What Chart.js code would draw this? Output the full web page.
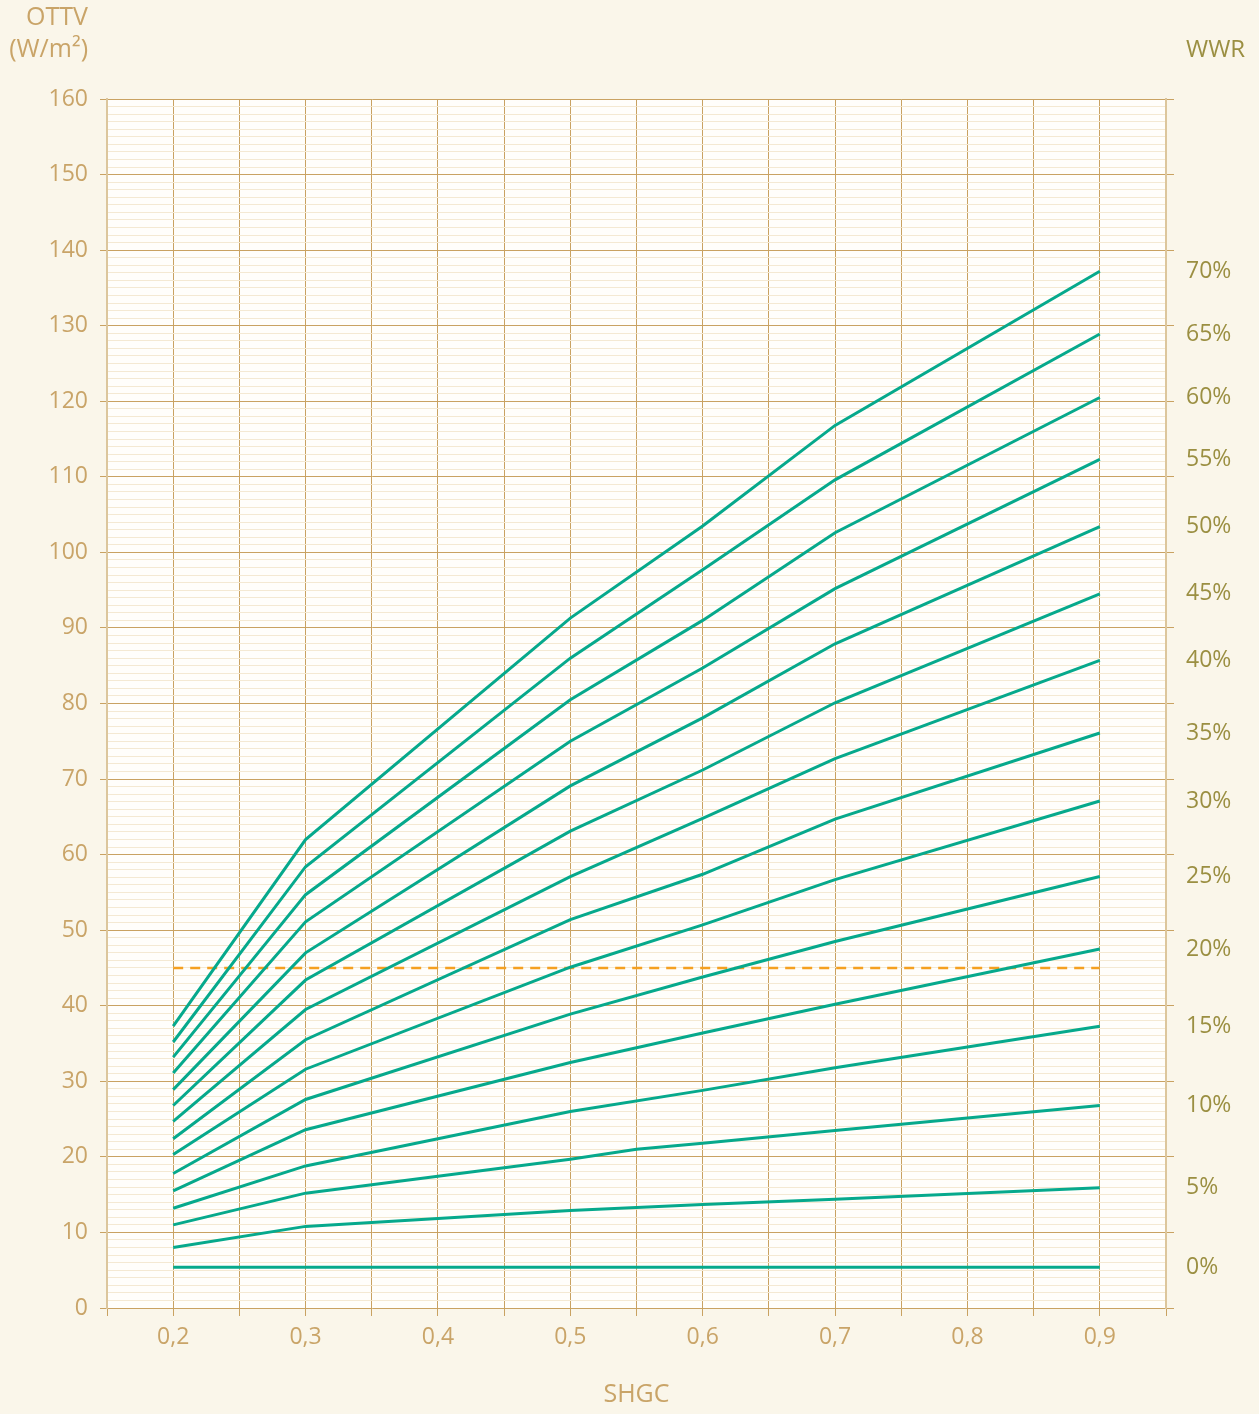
<!DOCTYPE html>
<html><head><meta charset="utf-8">
<script src="https://cdn.jsdelivr.net/npm/chart.js@4/dist/chart.umd.min.js"></script>
<style>html,body{margin:0;padding:0;background:#faf6ea;} canvas{display:block}</style>
</head><body>
<canvas id="c" width="1259" height="1414"></canvas>
<script>
// ---- data ----
const shgc = [0.2, 0.3, 0.5, 0.55, 0.6, 0.7, 0.9];
const wwr70 = [37.3, 62.0, 91.3, null, 103.5, 116.8, 137.2];
const wwr65 = [35.2, 58.4, 86.0, null, 97.7, 109.6, 128.9];
const wwr60 = [33.2, 54.7, 80.5, null, 91.0, 102.6, 120.5];
const wwr55 = [31.1, 51.1, 75.0, null, 84.7, 95.2, 112.3];
const wwr50 = [28.9, 47.0, 69.1, null, 78.1, 87.9, 103.4];
const wwr45 = [26.8, 43.4, 63.1, null, 71.2, 80.1, 94.5];
const wwr40 = [24.7, 39.5, 57.1, null, 64.8, 72.7, 85.7];
const wwr35 = [22.4, 35.5, 51.4, null, 57.4, 64.7, 76.1];
const wwr30 = [20.3, 31.6, 45.1, null, 50.7, 56.7, 67.1];
const wwr25 = [17.8, 27.6, 38.9, null, 43.8, 48.5, 57.1];
const wwr20 = [15.5, 23.6, 32.5, null, 36.4, 40.2, 47.5];
const wwr15 = [13.2, 18.8, 26.0, null, 28.8, 31.8, 37.3];
const wwr10 = [11.0, 15.2, 19.7, 21.0, 21.8, 23.5, 26.8];
const wwr05 = [8.0, 10.8, 12.9, null, 13.7, 14.4, 15.9];
const wwr00 = [5.4, 5.4, 5.4, null, 5.4, 5.4, 5.4];
const wwrNames = ['70%','65%','60%','55%','50%','45%','40%','35%','30%','25%','20%','15%','10%','5%','0%'];
const wwrSeries = [wwr70, wwr65, wwr60, wwr55, wwr50, wwr45, wwr40, wwr35, wwr30, wwr25, wwr20, wwr15, wwr10, wwr05, wwr00];
const ottvLimit = 45;
const limitRange = [0.2, 0.9];
const ottvTicks = [0,10,20,30,40,50,60,70,80,90,100,110,120,130,140,150,160];
const shgcTicks = [0.15,0.2,0.25,0.3,0.35,0.4,0.45,0.5,0.55,0.6,0.65,0.7,0.75,0.8,0.85,0.9,0.95];
const shgcLabeled = [0.2,0.3,0.4,0.5,0.6,0.7,0.8,0.9];

// ---- styles ----
const TEAL = '#06a98c';
const ORANGE = '#f5a020';
const GOLD = '#c9a262';
const MINOR = '#f4e9d3';
const TAN = '#c9a468';
const OLIVE = '#9b8f42';
const FONT = "'Open Sans', 'Noto Sans', sans-serif";

const datasets = wwrSeries.map((vals, i) => ({
  label: wwrNames[i],
  data: shgc.map((x, j) => ({x: x, y: vals[j]})).filter(p => p.y !== null),
  borderColor: TEAL, borderWidth: 3, pointRadius: 0, tension: 0, fill: false,
  yAxisID: 'y'
}));
datasets.push({
  label: 'limit',
  data: limitRange.map(x => ({x: x, y: ottvLimit})),
  borderColor: ORANGE, borderWidth: 2.5, borderDash: [10, 7], pointRadius: 0, fill: false,
  yAxisID: 'y'
});
const wwrEnds = wwrSeries.map(v => v[v.length - 1]);

const bgPlugin = {
  id: 'bg',
  beforeDraw(chart) {
    const {ctx, chartArea: a} = chart;
    ctx.save();
    ctx.fillStyle = '#faf6ea';
    ctx.fillRect(0, 0, chart.width, chart.height);
    ctx.fillStyle = '#fffefb';
    ctx.fillRect(a.left, a.top, a.right - a.left, a.bottom - a.top);
    ctx.restore();
  },
  afterDraw(chart) {
    const {ctx} = chart;
    ctx.save();
    ctx.font = "25px " + FONT;
    ctx.textBaseline = 'middle';
    ctx.textAlign = 'right';
    ctx.fillStyle = TAN;
    ctx.fillText('OTTV', 88, 18);
    ctx.fillText('(W/m²)', 88, 50);
    ctx.textAlign = 'left';
    ctx.fillStyle = OLIVE;
    ctx.font = "24px " + FONT;
    ctx.fillText('WWR', 1186, 50);
    ctx.restore();
  }
};

new Chart(document.getElementById('c'), {
  type: 'line',
  data: {datasets},
  plugins: [bgPlugin],
  options: {
    responsive: false, animation: false, devicePixelRatio: 1,
    layout: {padding: {top: 99, left: 0, right: 0, bottom: 0}},
    plugins: {legend: {display: false}, tooltip: {enabled: false}},
    scales: {
      x: {
        type: 'linear', min: 0.15, max: 0.95, position: 'bottom',
        afterBuildTicks: s => { s.ticks = shgcTicks.map(v => ({value: v})); },
        afterFit: s => { s.height = 106; },
        ticks: {
          autoSkip: false, maxRotation: 0, padding: 8, color: TAN,
          font: {family: FONT, size: 23},
          callback: v => shgcLabeled.some(t => Math.abs(t - v) < 1e-6) ? v.toFixed(1).replace('.', ',') : ''
        },
        grid: {color: GOLD, lineWidth: 1, tickLength: 8, tickColor: GOLD, drawTicks: true},
        border: {display: false},
        title: {display: true, text: 'SHGC', color: TAN, font: {family: FONT, size: 25}, padding: {top: 0, bottom: 4}}
      },
      yMinor: {
        type: 'linear', min: 0, max: 160, position: 'left', weight: 0, z: -1,
        afterBuildTicks: s => { const t = []; for (let v = 0; v <= 160; v++) t.push({value: v}); s.ticks = t; },
        afterFit: s => { s.width = 0; },
        ticks: {display: false, autoSkip: false},
        grid: {color: MINOR, lineWidth: 1, drawTicks: false},
        border: {display: false}
      },
      y: {
        type: 'linear', min: 0, max: 160, position: 'left', weight: 1,
        afterBuildTicks: s => { s.ticks = ottvTicks.map(v => ({value: v})); },
        afterFit: s => { s.width = 107; },
        ticks: {autoSkip: false, padding: 12, color: TAN, font: {family: FONT, size: 23}},
        grid: {color: GOLD, lineWidth: 1, tickLength: 7, tickColor: GOLD},
        border: {display: true, color: '#dcc69c', width: 2}
      },
      yTick: {
        type: 'linear', min: 0, max: 160, position: 'right', weight: 0,
        afterBuildTicks: s => { s.ticks = ottvTicks.map(v => ({value: v})); },
        afterFit: s => { s.width = 10; },
        ticks: {display: false, autoSkip: false},
        grid: {drawOnChartArea: false, tickLength: 8, tickColor: GOLD, lineWidth: 1},
        border: {display: true, color: '#dcc69c', width: 2}
      },
      yWwr: {
        type: 'linear', min: 0, max: 160, position: 'right', weight: 1,
        afterBuildTicks: s => { s.ticks = wwrEnds.map(v => ({value: v})); },
        afterFit: s => { s.width = 83; },
        ticks: {
          autoSkip: false, padding: 2, color: OLIVE, font: {family: FONT, size: 23},
          callback: (v, i) => wwrNames[i]
        },
        grid: {display: false},
        border: {display: false}
      }
    }
  }
});
</script>
</body></html>
